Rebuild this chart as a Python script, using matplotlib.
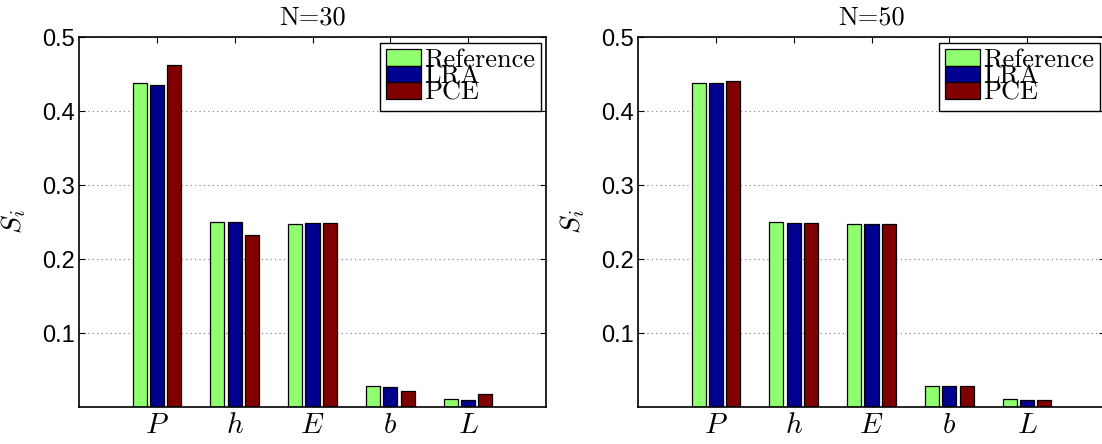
import matplotlib
matplotlib.use("Agg")
import matplotlib.pyplot as plt
import numpy as np

plt.rcParams['mathtext.fontset'] = 'cm'

categories = [r'$P$', r'$h$', r'$E$', r'$b$', r'$L$']
series_names = ['Reference', 'LRA', 'PCE']
colors = ['#8FFF70', '#00008F', '#800000']

titles = ['N=30', 'N=50']
ref_n30 = [0.438, 0.2496, 0.2477, 0.0284, 0.0104]
lra_n30 = [0.4347, 0.2500, 0.2486, 0.0275, 0.0099]
pce_n30 = [0.462, 0.2324, 0.2480, 0.0216, 0.0180]
ref_n50 = [0.438, 0.2496, 0.2477, 0.0284, 0.0104]
lra_n50 = [0.438, 0.2486, 0.2468, 0.0284, 0.0095]
pce_n50 = [0.440, 0.2486, 0.2473, 0.0284, 0.0095]
yticks = [0.1, 0.2, 0.3, 0.4, 0.5]
ytick_labels = ['0.1', '0.2', '0.3', '0.4', '0.5']

panels = [(titles[0], [ref_n30, lra_n30, pce_n30]),
          (titles[1], [ref_n50, lra_n50, pce_n50])]

W, H = 1102, 444
fig = plt.figure(figsize=(W / 100, H / 100), dpi=100)
fig.patch.set_facecolor('white')

lefts = [79, 638]
ax_w, ax_top, ax_bot = 467, 37, 407

x = np.arange(1, len(categories) + 1)
offset = 0.222
bw = 0.18

for left, (title, series) in zip(lefts, panels):
    ax = fig.add_axes([left / W, (H - ax_bot) / H, ax_w / W, (ax_bot - ax_top) / H])
    for i, (vals, name, col) in enumerate(zip(series, series_names, colors)):
        ax.bar(x + (i - 1) * offset, vals, width=bw, color=col,
               edgecolor='black', linewidth=0.9, label=name, zorder=3)
    ax.set_xlim(0, 6)
    ax.set_ylim(0, 0.5)
    ax.set_xticks(x)
    ax.set_xticklabels(categories, fontsize=21)
    ax.set_yticks(yticks)
    ax.set_yticklabels(ytick_labels, fontsize=17, family='Liberation Sans')
    ax.tick_params(direction='in', top=True, right=True, length=4, width=0.8)
    ax.tick_params(axis='x', pad=3)
    ax.tick_params(axis='y', pad=3)
    ax.yaxis.grid(True, linestyle=(0, (1, 3)), color='#777777', linewidth=0.8, zorder=0)
    ax.set_axisbelow(True)
    for sp in ax.spines.values():
        sp.set_linewidth(1.2)
        sp.set_zorder(5)
    ax.set_ylabel(r'$S_i$', fontsize=20, labelpad=10)
    ax.set_title(title, fontsize=19, family='cmr10', pad=9)
    leg = ax.legend(loc='upper right', bbox_to_anchor=(0.990, 0.985),
                    borderaxespad=0, prop={'family': 'cmr10', 'size': 19},
                    fancybox=False, framealpha=1, edgecolor='black',
                    handlelength=1.3, handleheight=0.62, handletextpad=0.15,
                    labelspacing=-0.28, borderpad=0.22)
    leg.get_frame().set_linewidth(1.0)
    leg.set_zorder(6)

fig.savefig('out.png', dpi=100, facecolor='white')
